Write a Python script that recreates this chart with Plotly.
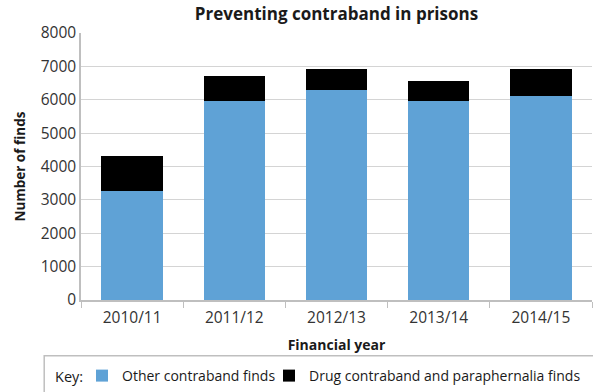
import plotly.graph_objects as go

years = ["2010/11", "2011/12", "2012/13", "2013/14", "2014/15"]
other_finds = [3280, 5950, 6300, 5950, 6120]
drug_finds = [1020, 750, 630, 620, 810]

FONT = "'Open Sans', 'Noto Sans', Arial, sans-serif"
TEXT = "#1a1a1a"
W, H = 593, 392

fig = go.Figure()
fig.add_bar(x=years, y=other_finds, name="Other contraband finds",
            marker=dict(color="#5fa2d6", line=dict(width=0)), legend="legend")
fig.add_bar(x=years, y=drug_finds, name="Drug contraband and paraphernalia finds",
            marker=dict(color="#000000", line=dict(width=0)), legend="legend2")

key_legend = dict(
    orientation="h", xref="container", xanchor="left",
    yref="container", y=1 - 376 / H, yanchor="middle",
    font=dict(size=14, color=TEXT),
    itemwidth=30, bgcolor="rgba(0,0,0,0)", visible=True,
)

fig.update_layout(
    showlegend=True,
    barmode="stack",
    bargap=0.4,
    width=W, height=H,
    margin=dict(l=81, r=1, t=33, b=92, autoexpand=False),
    plot_bgcolor="white", paper_bgcolor="white",
    font=dict(family=FONT, size=14, color=TEXT),
    title=dict(text="<b>Preventing contraband in prisons</b>",
               xref="paper", x=0.5, xanchor="center",
               yref="container", y=1 - 14 / H, yanchor="middle",
               font=dict(size=17, color=TEXT)),
    xaxis=dict(
        title=dict(text="<b>Financial year</b>", standoff=13,
                   font=dict(size=14, color=TEXT)),
        automargin=False,
        showline=True, linecolor="#bfbfbf", linewidth=1.5,
        ticks="outside", tickson="boundaries", ticklen=6, tickcolor="#bfbfbf",
        ticklabelstandoff=3,
        tickfont=dict(size=15.5, color="#333333"),
        showgrid=False,
    ),
    yaxis=dict(
        title=dict(text="<b>Number of finds</b>", standoff=12,
                   font=dict(size=13.5, color=TEXT)),
        automargin=False,
        range=[0, 8000], dtick=1000,
        showline=True, linecolor="#bfbfbf", linewidth=1.5,
        gridcolor="#d4d4d4", gridwidth=1.2,
        tickfont=dict(size=15.5, color="#333333"),
        zeroline=False,
    ),
    legend=dict(key_legend, x=82 / W),
    legend2=dict(key_legend, x=269 / W),
    annotations=[dict(text="Key:", xref="paper", yref="paper",
                      x=(53 - 81) / 511, xanchor="left",
                      y=(H - 92 - 376) / 267, yanchor="middle",
                      showarrow=False, font=dict(size=14.5, color=TEXT))],
    shapes=[dict(type="rect", xref="paper", yref="paper",
                 x0=-0.072, x1=1.02, y0=-0.36, y1=-0.209,
                 line=dict(color="#bfbfbf", width=1.5), fillcolor="rgba(0,0,0,0)",
                 layer="below")],
)

fig.write_html("out.html")
